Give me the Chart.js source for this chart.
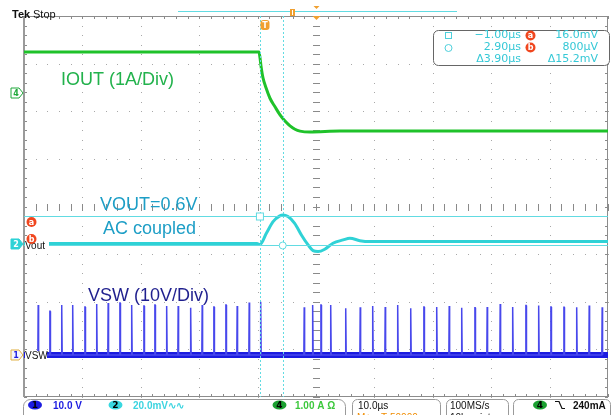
<!DOCTYPE html>
<html><head><meta charset="utf-8">
<script src="https://cdn.jsdelivr.net/npm/chart.js@4/dist/chart.umd.min.js"></script>
<style>html,body{margin:0;padding:0;background:#fff;}canvas{display:block;}</style>
</head><body>
<canvas id="c" width="612" height="415"></canvas>
<script>
// ---- data (time in µs, 10 µs/div) ----
const timeRange = [-41.4, 58.6];
// IOUT, ch4, amps relative to the ch4 marker
const ioutTime = [-41.4, -1.16, -0.99, -0.82, -0.48, 0.04, 0.72, 1.58, 2.44, 3.29, 4.15, 5.0, 5.86, 7.57, 12.71, 58.6];
const ioutAmps = [0.86, 0.86, 0.74, 0.57, 0.32, 0.11, -0.11, -0.29, -0.46, -0.59, -0.69, -0.76, -0.80, -0.82, -0.80, -0.80];
// VOUT, ch2, AC coupled, mV
const voutTime = [-41.4, -1.5, -1.0, 0.1, 1.25, 2.4, 2.95, 3.8, 4.95, 6.1, 7.25, 8.1, 8.95, 10.1, 11.5, 13.25, 14.4, 16.1, 17.8, 58.6];
const voutMilliVolts = [0.2, 0.2, -0.2, 4.5, 9.4, 11.8, 12.2, 11.5, 8.7, 3.8, -0.4, -2.8, -3.2, -2.2, 0.3, 1.7, 2.4, 1.4, 1.0, 1.0];
// VSW, ch1, switching pulses (time, peak volts)
const vswSpikeTime = [-38.95, -36.95, -34.94, -33.06, -30.95, -28.95, -26.97, -24.96, -22.96, -20.85, -18.97, -16.97, -14.98, -12.86, -10.87, -8.87, -6.81, -4.88, -2.82, -0.87,
  6.6, 8.03, 9.46, 11.12, 13.69, 16.19, 18.31, 20.47, 22.59, 24.82, 27.09, 29.27, 31.43, 33.55, 35.83, 37.93, 40.16, 42.28, 44.56, 46.73, 48.84, 51.07, 53.24, 55.40, 57.62];
const vswSpikeVolts = [10.5, 9.2, 10.5, 10.5, 10.1, 10.7, 10.9, 10.9, 10.5, 10.3, 10.5, 10.3, 10.3, 9.9, 10.5, 10.1, 10.5, 10.3, 11.0, 11.2,
  10.0, 10.5, 10.5, 10.5, 9.8, 10.0, 10.3, 10.1, 10.5, 9.8, 10.1, 10.1, 10.3, 9.9, 9.9, 10.1, 10.7, 10.1, 10.4, 10.4, 10.1, 10.0, 10.0, 10.4, 10.0];
const vswBaseTime = [-41.4, 58.6];
const vswBaseVolts = [0, 0];
// cursors
const cursorTimes = [-1.0, 2.9];
const cursorLevelsMv = [11.8, -0.4];
// readout texts
const readoutRows = [["−1.00µs", "a", "16.0mV"], ["2.90µs", "b", "800µV"], ["Δ3.90µs", "", "Δ15.2mV"]];

// ---- channel vertical setup (divisions from bottom, units per div) ----
const CH = {
  iout: {offset: 6.383, perDiv: 1},
  vout: {offset: 3.213, perDiv: 20},
  vsw:  {offset: 0.882, perDiv: 10}
};
const toDiv = (ch, v) => ch.offset + v / ch.perDiv;

const ioutData = ioutTime.map((t, i) => ({x: t, y: toDiv(CH.iout, ioutAmps[i])}));
const voutData = voutTime.map((t, i) => ({x: t, y: toDiv(CH.vout, voutMilliVolts[i])}));
const vswBase = vswBaseTime.map((t, i) => ({x: t, y: toDiv(CH.vsw, vswBaseVolts[i])}));
const vswSpikes = [];
vswSpikeTime.forEach((t, i) => {
  const b = toDiv(CH.vsw, 0), h = toDiv(CH.vsw, vswSpikeVolts[i]);
  vswSpikes.push({x: t - 0.08, y: b}, {x: t - 0.02, y: h}, {x: t + 0.02, y: h}, {x: t + 0.08, y: b});
});

const GREEN = '#1fc22a', CYAN = '#2fd2d6', BLUE = '#1c1ce0';

const gridPlugin = {
  id: 'grid',
  beforeDatasetsDraw(chart) {
    const {ctx, chartArea: a} = chart;
    const dx = (a.right - a.left) / 10, dy = (a.bottom - a.top) / 8;
    ctx.save();
    ctx.fillStyle = '#a8a8a8';
    for (let i = 1; i < 10; i++) {
      const x = Math.round(a.left + i * dx);
      for (let k = 0; k <= 40; k++) ctx.fillRect(x, Math.round(a.top + k * dy / 5), 1, 1);
    }
    for (let j = 1; j < 8; j++) {
      const y = Math.round(a.top + j * dy);
      for (let k = 0; k <= 50; k++) ctx.fillRect(Math.round(a.left + k * dx / 5), y, 1, 1);
    }
    const cx = Math.round(a.left + 5 * dx), cy = Math.round(a.top + 4 * dy);
    ctx.fillStyle = '#8a8a8a';
    for (let k = 0; k <= 40; k++) {
      const y = Math.round(a.top + k * dy / 5);
      ctx.fillRect(cx - 3, y, 7, 1);
      ctx.fillRect(a.left, y, 3, 1);
      ctx.fillRect(a.right - 3, y, 3, 1);
    }
    for (let k = 0; k <= 50; k++) {
      const x = Math.round(a.left + k * dx / 5);
      ctx.fillRect(x, cy - 3, 1, 7);
      ctx.fillRect(x, a.top, 1, 3);
      ctx.fillRect(x, a.bottom - 3, 1, 3);
    }
    ctx.strokeStyle = '#8c8c8c';
    ctx.lineWidth = 1;
    ctx.strokeRect(a.left + 0.5, a.top + 0.5, a.right - a.left - 1, a.bottom - a.top - 1);
    ctx.fillStyle = '#9a9a9a';
    ctx.fillRect(a.left - 1, a.top, 2, a.bottom - a.top);
    ctx.restore();
  }
};

function roundBox(ctx, x, y, w, h, r) {
  ctx.beginPath();
  ctx.roundRect(x, y, w, h, r);
}
function pill(ctx, cx, cy, rx, ry, fill, txt, txtColor) {
  ctx.beginPath();
  ctx.ellipse(cx, cy, rx, ry, 0, 0, Math.PI * 2);
  ctx.fillStyle = fill; ctx.fill();
  ctx.fillStyle = txtColor;
  ctx.font = 'bold 9px "DejaVu Sans"';
  ctx.textAlign = 'center'; ctx.textBaseline = 'middle';
  ctx.fillText(txt, cx, cy + 0.5);
}
function redBadge(ctx, cx, cy, t) {
  ctx.beginPath(); ctx.arc(cx, cy, 5, 0, Math.PI * 2);
  ctx.fillStyle = '#f0461e'; ctx.fill();
  ctx.fillStyle = '#fff'; ctx.font = 'bold 8px "DejaVu Sans"';
  ctx.textAlign = 'center'; ctx.textBaseline = 'middle';
  ctx.fillText(t, cx, cy + 0.5);
}
function chMarker(ctx, y, fill, stroke, txt, txtColor) {
  ctx.beginPath();
  ctx.moveTo(11, y - 5); ctx.lineTo(19, y - 5); ctx.lineTo(23, y); ctx.lineTo(19, y + 5); ctx.lineTo(11, y + 5); ctx.closePath();
  ctx.fillStyle = fill; ctx.fill();
  ctx.strokeStyle = stroke; ctx.lineWidth = 1; ctx.stroke();
  ctx.fillStyle = txtColor; ctx.font = 'bold 8px "DejaVu Sans"';
  ctx.textAlign = 'center'; ctx.textBaseline = 'middle';
  ctx.fillText(txt, 16, y + 0.5);
}

const overlayPlugin = {
  id: 'overlay',
  afterDatasetsDraw(chart) {
    const {ctx, chartArea: a, scales: {x, y}} = chart;
    ctx.save();
    // cursors
    ctx.strokeStyle = '#62dbe2'; ctx.lineWidth = 1;
    ctx.setLineDash([2, 2]);
    cursorTimes.forEach(t => {
      const px = Math.round(x.getPixelForValue(t)) + 0.5;
      ctx.beginPath(); ctx.moveTo(px, a.top); ctx.lineTo(px, a.bottom); ctx.stroke();
    });
    ctx.setLineDash([]);
    const cy = cursorLevelsMv.map(v => Math.round(y.getPixelForValue(toDiv(CH.vout, v))) + 0.5);
    cy.forEach(py => { ctx.beginPath(); ctx.moveTo(a.left, py); ctx.lineTo(a.right, py); ctx.stroke(); });
    const c0 = x.getPixelForValue(cursorTimes[0]), c1 = x.getPixelForValue(cursorTimes[1]);
    ctx.fillStyle = '#fff';
    ctx.fillRect(c0 - 3.5, cy[0] - 3.5, 7, 7); ctx.strokeRect(c0 - 3.5, cy[0] - 3.5, 7, 7);
    ctx.beginPath(); ctx.arc(c1, cy[1], 3.5, 0, Math.PI * 2); ctx.fill(); ctx.stroke();

    // channel labels with white background
    ctx.font = '10px "Liberation Sans"'; ctx.textAlign = 'left'; ctx.textBaseline = 'alphabetic';
    const yv = y.getPixelForValue(CH.vout.offset), ys = y.getPixelForValue(CH.vsw.offset), yi = y.getPixelForValue(CH.iout.offset);
    ctx.fillStyle = '#fff'; ctx.fillRect(25, yv - 3, 24, 9); ctx.fillRect(25, ys - 4, 22, 9);
    ctx.fillStyle = '#111'; ctx.fillText('Vout', 25, yv + 5); ctx.fillText('VSW', 25, ys + 4);

    chMarker(ctx, yi, '#ffffff', '#1fa83a', '4', '#1fa83a');
    chMarker(ctx, yv, CYAN, CYAN, '2', '#ffffff');
    chMarker(ctx, ys, '#f4f4ff', '#e0b040', '1', BLUE);
    redBadge(ctx, 31.5, 222, 'a');
    redBadge(ctx, 31.5, 239, 'b');

    // annotations
    ctx.font = '18px "Liberation Sans"'; ctx.textAlign = 'left';
    ctx.fillStyle = '#22b24c'; ctx.fillText('IOUT (1A/Div)', 61, 80);
    ctx.fillStyle = '#1d9ec6'; ctx.fillText('VOUT=0.6V', 100, 205); ctx.fillText('AC coupled', 103, 229);
    ctx.fillStyle = '#1f1f8e'; ctx.fillText('VSW (10V/Div)', 88, 296);

    // top header
    ctx.fillStyle = '#111';
    ctx.font = 'bold 11px "Liberation Sans"'; ctx.fillText('Tek', 12, 15);
    ctx.font = '11px "Liberation Sans"'; ctx.fillText('Stop', 33, 15);
    ctx.strokeStyle = '#62dbe2'; ctx.beginPath(); ctx.moveTo(178, 11.5); ctx.lineTo(457, 11.5); ctx.stroke();
    ctx.fillStyle = '#f0a030';
    ctx.fillRect(290, 9, 5, 7);
    ctx.fillStyle = '#fff'; ctx.fillRect(292, 10, 1, 5);
    ctx.fillStyle = '#f0a030';
    ctx.beginPath(); ctx.moveTo(313.5, 6); ctx.lineTo(319.5, 6); ctx.lineTo(316.5, 9); ctx.closePath(); ctx.fill();
    ctx.beginPath(); ctx.moveTo(312.5, 16); ctx.lineTo(320.5, 16); ctx.lineTo(316.5, 20); ctx.closePath(); ctx.fill();
    roundBox(ctx, 260.5, 20, 9, 10, 3); ctx.fill();
    ctx.fillStyle = '#fff'; ctx.font = 'bold 8px "DejaVu Sans"'; ctx.textAlign = 'center'; ctx.textBaseline = 'middle';
    ctx.fillText('T', 265, 25.5);

    // readout box
    ctx.strokeStyle = '#666'; ctx.lineWidth = 1; ctx.fillStyle = '#fff';
    roundBox(ctx, 433.5, 30.5, 176, 35, 5); ctx.fill(); ctx.stroke();
    ctx.strokeStyle = '#4fd0dc'; ctx.fillStyle = '#fff';
    ctx.strokeRect(445.5, 32.5, 6, 6);
    ctx.beginPath(); ctx.arc(448.5, 48, 3.5, 0, Math.PI * 2); ctx.stroke();
    const rowY = [35.5, 47.5, 59.5];
    readoutRows.forEach((r, i) => {
      ctx.font = '11px "DejaVu Sans"'; ctx.fillStyle = '#35c8d6';
      ctx.textAlign = 'right'; ctx.textBaseline = 'middle';
      ctx.fillText(r[0], 521, rowY[i]);
      ctx.fillText(r[2], 598, rowY[i]);
      if (r[1]) redBadge(ctx, 530.5, rowY[i], r[1]);
    });

    // bottom status bar
    ctx.strokeStyle = '#9a9a9a'; ctx.lineWidth = 1;
    roundBox(ctx, 23.5, 399.5, 322, 24, 7); ctx.stroke();
    roundBox(ctx, 352.5, 399.5, 88, 24, 5); ctx.stroke();
    roundBox(ctx, 446.5, 399.5, 62, 24, 5); ctx.stroke();
    roundBox(ctx, 513.5, 399.5, 97, 24, 5); ctx.stroke();
    pill(ctx, 35, 405, 7, 4.5, '#1c1ce0', '1', '#000');
    pill(ctx, 115.5, 405, 7, 4.5, '#38d8e0', '2', '#000');
    pill(ctx, 279.5, 405, 7, 4.5, '#1aa030', '4', '#000');
    pill(ctx, 540, 405, 7, 4.5, '#1aa030', '4', '#000');
    ctx.textAlign = 'left'; ctx.textBaseline = 'alphabetic';
    ctx.font = 'bold 10px "Liberation Sans"';
    ctx.fillStyle = BLUE; ctx.fillText('10.0 V', 53, 409);
    ctx.fillStyle = '#3cd4e0'; ctx.fillText('20.0mV∿∿', 133, 409);
    ctx.fillStyle = '#3cc83c'; ctx.fillText('1.00 A Ω', 295, 409);
    ctx.fillStyle = '#111'; ctx.font = '10px "Liberation Sans"';
    ctx.fillText('10.0µs', 358, 409);
    ctx.fillText('100MS/s', 450, 409);
    ctx.fillText('10k points', 450, 421);
    ctx.fillStyle = '#f08c00'; ctx.fillText('M+▼T 50000µs', 357, 421);
    ctx.fillStyle = '#111'; ctx.font = 'bold 10px "Liberation Sans"';
    ctx.fillText('240mA', 573, 409);
    ctx.strokeStyle = '#111'; ctx.lineWidth = 1.2;
    ctx.beginPath(); ctx.moveTo(555, 401.5); ctx.lineTo(559, 401.5); ctx.lineTo(562, 408.5); ctx.lineTo(565, 408.5); ctx.stroke();
    ctx.restore();
  }
};

new Chart(document.getElementById('c'), {
  type: 'line',
  data: {
    datasets: [
      {data: ioutData, borderColor: GREEN, borderWidth: 3, pointRadius: 0, cubicInterpolationMode: 'monotone'},
      {data: voutData, borderColor: CYAN, borderWidth: 3, pointRadius: 0, cubicInterpolationMode: 'monotone'},
      {data: vswSpikes, borderColor: '#4848ec', borderWidth: 1.5, pointRadius: 0, tension: 0},
      {data: vswBase, borderColor: BLUE, borderWidth: 6, pointRadius: 0}
    ]
  },
  options: {
    responsive: false, animation: false, devicePixelRatio: 1,
    layout: {padding: {left: 24, right: 4, top: 16, bottom: 18}},
    scales: {
      x: {type: 'linear', min: timeRange[0], max: timeRange[1], display: false},
      y: {type: 'linear', min: 0, max: 8, display: false}
    },
    plugins: {legend: {display: false}, tooltip: {enabled: false}}
  },
  plugins: [gridPlugin, overlayPlugin]
});
</script>
</body></html>
